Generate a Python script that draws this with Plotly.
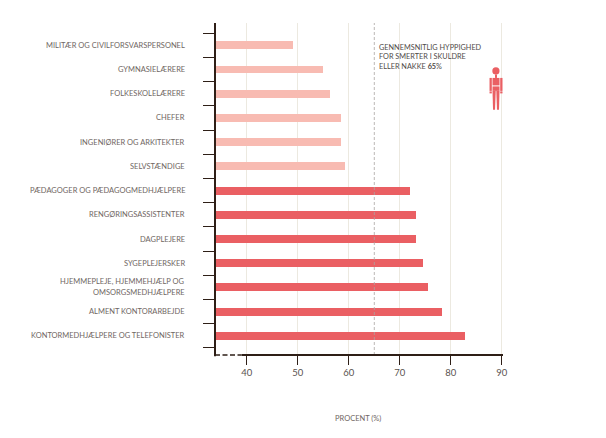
import plotly.graph_objects as go

categories = ["MILITÆR OG CIVILFORSVARSPERSONEL", "GYMNASIELÆRERE", "FOLKESKOLELÆRERE", "CHEFER",
              "INGENIØRER OG ARKITEKTER", "SELVSTÆNDIGE", "PÆDAGOGER OG PÆDAGOGMEDHJÆLPERE",
              "RENGØRINGSASSISTENTER", "DAGPLEJERE", "SYGEPLEJERSKER",
              "HJEMMEPLEJE, HJEMMEHJÆLP OG<br>OMSORGSMEDHJÆLPERE", "ALMENT KONTORARBEJDE",
              "KONTORMEDHJÆLPERE OG TELEFONISTER"]
values = [49.0, 55.0, 56.3, 58.5, 58.5, 59.3, 72.0, 73.2, 73.2, 74.5, 75.5, 78.2, 82.8]
average = 65
x_ticks = [40, 50, 60, 70, 80, 90]

OFF = 8  # page body margin
W, H = 606 - 2 * OFF, 438 - 2 * OFF
L, R, T, B = 215, 503.5, 23, 355.5  # page coordinates
DARK = "#2e1f17"
TEXT = "#6f6662"
positions = list(range(len(categories)))
colors = ["#f8bbb2"] * 6 + ["#ea5f63"] * 7

fig = go.Figure(go.Bar(x=values, y=positions, orientation="h", marker=dict(color=colors, line_width=0),
                       width=8 / 24.25, base=0, hoverinfo="x+y"))

def px(x):
    return (x - L) / (R - L)

def py(y):
    return (B - y) / (B - T)

shapes = [
    dict(type="line", xref="x", yref="paper", x0=average, x1=average, y0=0, y1=1.0,
         line=dict(color="#aaa6a2", width=0.8, dash="3px,2px"), layer="above"),
    dict(type="line", xref="paper", yref="paper", x0=0, x1=0, y0=-0.004, y1=1,
         line=dict(color=DARK, width=2)),
    dict(type="line", xref="x", yref="paper", x0=33.77, x1=39, y0=0, y1=0,
         line=dict(color=DARK, width=1.5, dash="5px,2.5px")),
    dict(type="line", xref="x", yref="paper", x0=39, x1=90.23, y0=0, y1=0,
         line=dict(color=DARK, width=2)),
]
# person icon
ICON = "#ea5f63"
def rect(x0, y0, x1, y1):
    return dict(type="rect", xref="paper", yref="paper", x0=px(x0), x1=px(x1), y0=py(y1), y1=py(y0),
                fillcolor=ICON, line_width=0, layer="above")
shapes += [
    dict(type="circle", xref="paper", yref="paper", x0=px(492.8), x1=px(500), y0=py(74.6), y1=py(67.4),
         fillcolor=ICON, line_width=0),
    rect(495.5, 74.5, 497.5, 78),
    rect(490, 78, 492.3, 91), rect(490, 91.5, 492.3, 93.5),
    rect(500.7, 78, 503, 91), rect(500.7, 91.5, 503, 93.5),
    rect(493, 78, 500, 85.5), rect(493, 86.5, 500, 91),
    dict(type="path", xref="paper", yref="paper", fillcolor=ICON, line_width=0,
         path=f"M {px(493)} {py(91)} L {px(496.2)} {py(91)} L {px(495.5)} {py(110)} L {px(493.5)} {py(110)} Z"),
    dict(type="path", xref="paper", yref="paper", fillcolor=ICON, line_width=0,
         path=f"M {px(496.8)} {py(91)} L {px(500)} {py(91)} L {px(499.5)} {py(110)} L {px(497.5)} {py(110)} Z"),
]

annotations = []
for c, p in zip(categories, positions):
    lines = c.split("<br>")
    for i, line in enumerate(lines):
        annotations.append(dict(xref="paper", yref="y", x=px(186.5), y=p, text=line, showarrow=False,
                                xanchor="right", yanchor="middle", align="right",
                                font=dict(family="Lato", size=7.5, color=TEXT),
                                yshift=(len(lines) - 1) * 5.5 - i * 11))
annotations.append(dict(xref="paper", yref="paper", x=px(377.5), y=py(41.5), xanchor="left", yanchor="top",
                        align="left", showarrow=False,
                        text="GENNEMSNITLIG HYPPIGHED<br>FOR SMERTER I SKULDRE<br>ELLER NAKKE <b>65</b>%",
                        font=dict(family="Lato", size=7.3, color="#4f4a48")))
annotations.append(dict(xref="paper", yref="paper", x=px(358.5), y=py(419), xanchor="center", yanchor="middle",
                        showarrow=False, text="PROCENT (%)", font=dict(family="Lato", size=7.5, color=TEXT)))

fig.update_layout(
    width=W, height=H, autosize=False, showlegend=False, plot_bgcolor="white", paper_bgcolor="white",
    margin=dict(l=L - OFF, r=W - (R - OFF), t=T - OFF, b=H - (B - OFF), pad=0),
    bargap=0,
    shapes=shapes, annotations=annotations,
    xaxis=dict(range=[33.77, 90.23], tickvals=x_ticks, ticks="outside", ticklen=9, tickwidth=1, tickcolor=DARK,
               showgrid=True, gridcolor="#ece9e0", gridwidth=1, zeroline=False, showline=False, automargin=False,
               tickfont=dict(family="Lato", size=9.5, color="#5a5350")),
    yaxis=dict(range=[12.79, -0.92], tickvals=[p - 0.5 for p in positions] + [12.5], ticktext=[""] * 14,
               ticks="outside", ticklen=11, tickwidth=1, tickcolor=DARK, showgrid=False, zeroline=False,
               showline=False, automargin=False),
)
fig.write_html("out.html")
